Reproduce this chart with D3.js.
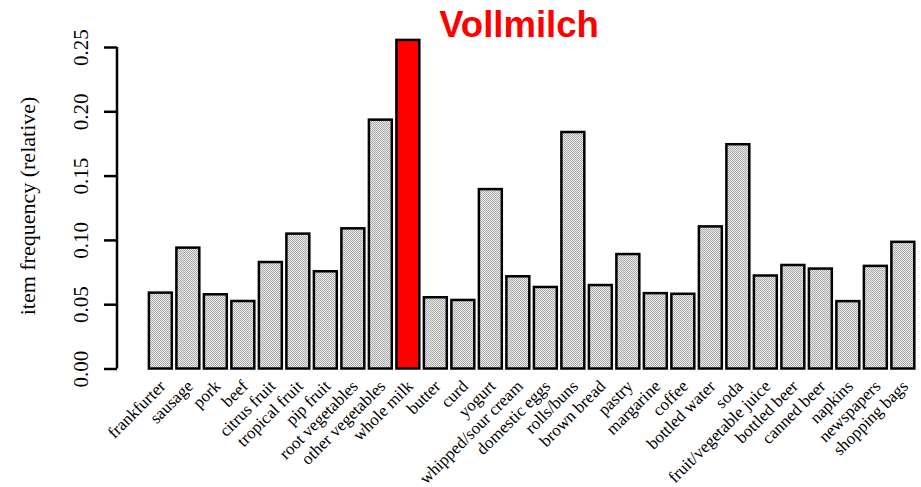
<!DOCTYPE html>
<html>
<head>
<meta charset="utf-8">
<script src="https://cdn.jsdelivr.net/npm/d3@7"></script>
<style>
  html, body { margin: 0; padding: 0; background: #fff; }
  svg { display: block; }
</style>
</head>
<body>
<svg id="chart" width="921" height="487"></svg>
<script>
// Relative item frequencies (Groceries transactions)
const items = [
  "frankfurter", "sausage", "pork", "beef", "citrus fruit", "tropical fruit",
  "pip fruit", "root vegetables", "other vegetables", "whole milk", "butter",
  "curd", "yogurt", "whipped/sour cream", "domestic eggs", "rolls/buns",
  "brown bread", "pastry", "margarine", "coffee", "bottled water", "soda",
  "fruit/vegetable juice", "bottled beer", "canned beer", "napkins",
  "newspapers", "shopping bags"
];
const frequencies = [
  0.0590, 0.0940, 0.0577, 0.0525, 0.0828, 0.1049,
  0.0756, 0.1090, 0.1935, 0.2555, 0.0554,
  0.0533, 0.1395, 0.0717, 0.0634, 0.1839,
  0.0649, 0.0890, 0.0586, 0.0581, 0.1105, 0.1744,
  0.0723, 0.0805, 0.0777, 0.0524,
  0.0798, 0.0985
];
const highlighted = "whole milk";
const yTicks = [0.00, 0.05, 0.10, 0.15, 0.20, 0.25];
const titleText = "Vollmilch";
const yLabel = "item frequency (relative)";

const svg = d3.select("#chart");
const serif = "'Liberation Serif', 'Times New Roman', serif";

// Fine stipple fill used by the ordinary bars
const defs = svg.append("defs");
const pat = defs.append("pattern")
  .attr("id", "stipple")
  .attr("patternUnits", "userSpaceOnUse")
  .attr("width", 2).attr("height", 2);
pat.append("rect").attr("width", 2).attr("height", 2).attr("fill", "#eaeaea");
pat.append("rect").attr("x", 0).attr("y", 0).attr("width", 1).attr("height", 1).attr("fill", "#ababab");
pat.append("rect").attr("x", 1).attr("y", 1).attr("width", 1).attr("height", 1).attr("fill", "#ababab");

const x = d3.scaleBand()
  .domain(items)
  .range([146.6, 916.6])
  .paddingInner(0.2 / 1.2)
  .paddingOuter(0.1 / 1.2);

const y = d3.scaleLinear()
  .domain([0, 0.25])
  .range([368.5, 47]);

// Bars
svg.append("g")
  .selectAll("rect")
  .data(items.map((name, i) => ({ name, value: frequencies[i] })))
  .join("rect")
  .attr("x", d => x(d.name))
  .attr("y", d => y(d.value))
  .attr("width", x.bandwidth())
  .attr("height", d => y(0) - y(d.value))
  .attr("fill", d => d.name === highlighted ? "#ff0000" : "url(#stipple)")
  .attr("stroke", "#000")
  .attr("stroke-width", 2.5);

// Y axis
const yAxis = svg.append("g")
  .attr("transform", "translate(117,0)")
  .call(d3.axisLeft(y).tickValues(yTicks).tickSize(13).tickFormat(d3.format(".2f")));
yAxis.select(".domain")
  .attr("stroke-width", 2.5)
  .attr("d", `M0,${y(0.25)}V${y(0)}`);
yAxis.selectAll(".tick line").attr("stroke-width", 2.5);
yAxis.selectAll(".tick text")
  .attr("font-family", serif)
  .attr("font-size", 21)
  .attr("fill", "#000")
  .attr("x", null).attr("dy", null)
  .attr("text-anchor", "middle")
  .attr("transform", "translate(-29,0) rotate(-90)");

// Y axis title
svg.append("text")
  .attr("transform", "translate(35,206) rotate(-90)")
  .attr("text-anchor", "middle")
  .attr("font-family", serif)
  .attr("font-size", 22)
  .text(yLabel);

// Rotated category labels
svg.append("g")
  .selectAll("text")
  .data(items)
  .join("text")
  .attr("transform", d => `translate(${x(d) + x.bandwidth() / 2 + 2},383) rotate(-45)`)
  .attr("text-anchor", "end")
  .attr("dy", "0.35em")
  .attr("font-family", serif)
  .attr("font-size", 17)
  .text(d => d);

// Title
svg.append("text")
  .attr("x", 519)
  .attr("y", 37)
  .attr("text-anchor", "middle")
  .attr("font-family", "'Liberation Sans', Arial, sans-serif")
  .attr("font-weight", "bold")
  .attr("font-size", 36.5)
  .attr("fill", "#ff0000")
  .text(titleText);
</script>
</body>
</html>
